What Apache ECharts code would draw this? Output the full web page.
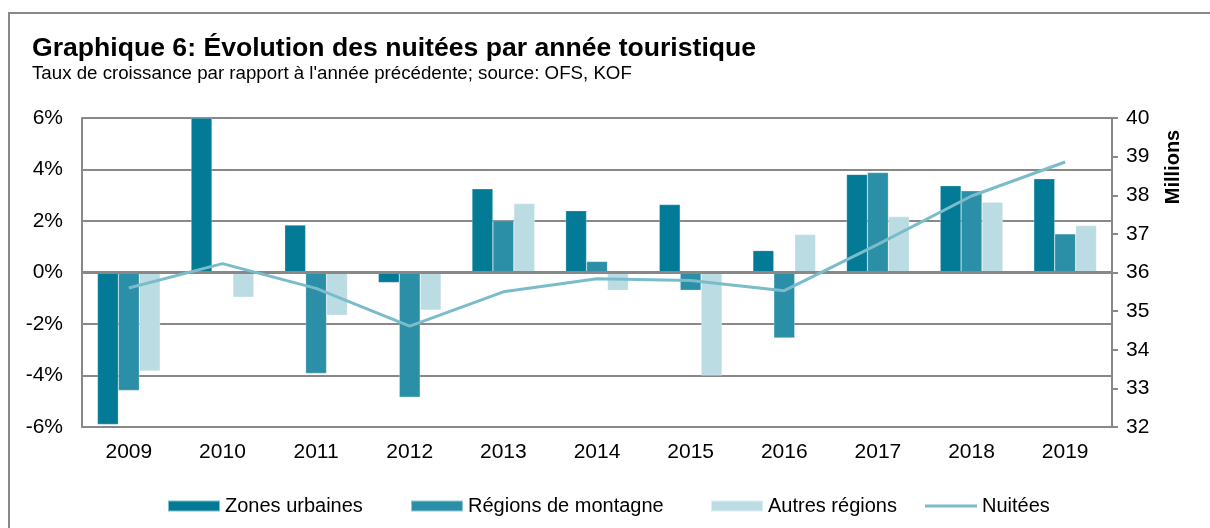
<!DOCTYPE html>
<html>
<head>
<meta charset="utf-8">
<title>Graphique 6</title>
<script src="https://cdn.jsdelivr.net/npm/echarts@6/dist/echarts.min.js"></script>
<style>
	html, body { margin: 0; padding: 0; background: #fff; }
	#chart { width: 1210px; height: 528px; }
</style>
</head>
<body>
<div id="chart"></div>
<script>
// valeurs
const years = ['2009', '2010', '2011', '2012', '2013', '2014', '2015', '2016', '2017', '2018', '2019'];
const zonesUrbaines = [-5.9, 6.0, 1.84, -0.39, 3.25, 2.4, 2.64, 0.85, 3.81, 3.37, 3.64];
const regionsMontagne = [-4.58, 0.0, -3.92, -4.84, 2.02, 0.43, -0.69, -2.54, 3.88, 3.17, 1.5];
const autresRegions = [-3.83, -0.96, -1.66, -1.46, 2.68, -0.69, -4.0, 1.48, 2.17, 2.73, 1.83];
const nuitees = [35.6, 36.23, 35.59, 34.61, 35.5, 35.84, 35.79, 35.53, 36.73, 37.98, 38.86];

const font = "'Liberation Sans', Arial, sans-serif";
const grey = '#888888';
const colors = ['#037a96', '#2a8fa7', '#bcdce4', '#7bbccb'];

const myChart = echarts.init(document.getElementById('chart'));

function legendAt(name, left, h) {
	return {
		data: [{ name: name, icon: 'rect' }],
		left: left,
		top: 501 - 10,
		itemWidth: 52,
		itemHeight: h,
		itemGap: 5,
		textStyle: { fontFamily: font, fontSize: 20, color: '#000' },
		selectedMode: false,
	};
}

const option = {
	animation: false,
	color: colors,
	title: {
		text: 'Graphique 6: Évolution des nuitées par année touristique',
		subtext: "Taux de croissance par rapport à l'année précédente; source: OFS, KOF",
		left: 27,
		top: 30,
		itemGap: 2,
		textStyle: { fontFamily: font, fontSize: 26.6, fontWeight: 'bold', color: '#000' },
		subtextStyle: { fontFamily: font, fontSize: 18.7, color: '#000' },
	},
	legend: [
		legendAt('Zones urbaines', 162, 11),
		legendAt('Régions de montagne', 405, 11),
		legendAt('Autres régions', 705, 11),
		legendAt('Nuitées', 920, 3),
	],
	graphic: [
		{
			type: 'rect',
			silent: true,
			shape: { x: 9, y: 13, width: 1400, height: 700 },
			style: { fill: 'none', stroke: grey, lineWidth: 2 },
		},
		{
			type: 'text',
			x: 1173,
			y: 167,
			rotation: Math.PI / 2,
			style: {
				text: 'Millions',
				font: 'bold 20px ' + font,
				fill: '#000',
				textAlign: 'center',
				textVerticalAlign: 'middle',
				align: 'center',
				verticalAlign: 'middle',
			},
		},
	],
	grid: {
		left: 82,
		right: 98,
		top: 118,
		bottom: 101,
	},
	xAxis: {
		type: 'category',
		data: years,
		axisLine: { onZero: false, lineStyle: { color: grey, width: 2 } },
		axisTick: { show: false },
		axisLabel: { fontFamily: font, fontSize: 21, color: '#000', margin: 15 },
	},
	yAxis: [
		{
			type: 'value',
			min: -6,
			max: 6,
			interval: 2,
			axisLine: { show: true, lineStyle: { color: grey, width: 2 } },
			axisTick: { show: false },
			axisLabel: { fontFamily: font, fontSize: 21, color: '#000', margin: 19, formatter: '{value}%' },
			splitLine: { lineStyle: { color: grey, width: 2 } },
		},
		{
			type: 'value',
			min: 32,
			max: 40,
			interval: 1,
			position: 'right',
			axisLine: { show: true, lineStyle: { color: grey, width: 2 } },
			axisTick: { show: true, length: 6, lineStyle: { color: grey, width: 2 } },
			axisLabel: { fontFamily: font, fontSize: 21, color: '#000', margin: 14 },
			splitLine: { show: false },
		},
	],
	series: [
		{
			name: 'Zones urbaines',
			type: 'bar',
			data: zonesUrbaines,
			barGap: 0,
			barCategoryGap: '33%',
			itemStyle: { borderColor: 'rgba(255,255,255,0.5)', borderWidth: 0.5 },
			markLine: {
				silent: true,
				symbol: 'none',
				label: { show: false },
				lineStyle: { color: grey, width: 3, type: 'solid' },
				data: [{ yAxis: 0 }],
			},
		},
		{
			name: 'Régions de montagne',
			type: 'bar',
			data: regionsMontagne,
			barGap: 0,
			barCategoryGap: '33%',
			itemStyle: { borderColor: 'rgba(255,255,255,0.5)', borderWidth: 0.5 },
		},
		{
			name: 'Autres régions',
			type: 'bar',
			data: autresRegions,
			barGap: 0,
			barCategoryGap: '33%',
			itemStyle: { borderColor: 'rgba(255,255,255,0.5)', borderWidth: 0.5 },
		},
		{
			name: 'Nuitées',
			type: 'line',
			yAxisIndex: 1,
			data: nuitees,
			symbol: 'none',
			lineStyle: { width: 3, color: colors[3] },
			itemStyle: { color: colors[3] },
			z: 5,
		},
	],
};

myChart.setOption(option);
</script>
</body>
</html>
